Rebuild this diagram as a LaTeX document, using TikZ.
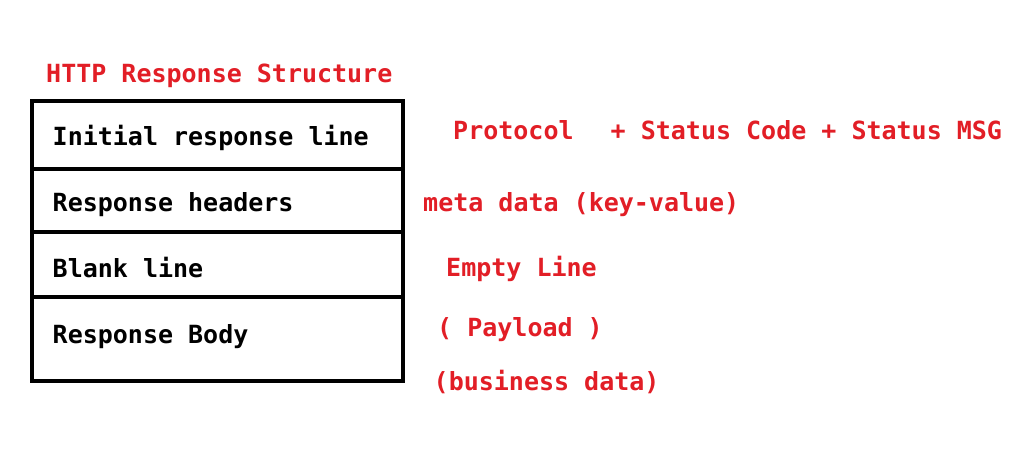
\documentclass[tikz,border=0pt]{standalone}
\usepackage{fontspec}
\setmonofont{DejaVu Sans Mono}
\definecolor{labelred}{RGB}{226,30,38}
\begin{document}
\begin{tikzpicture}[x=1pt,y=-1pt,
  rowbox/.style={draw=black, line width=4pt, minimum width=371pt, inner sep=0pt, outer sep=0pt, anchor=north west},
  celltext/.style={font=\ttfamily\bfseries\fontsize{25}{29}\selectfont, text=black, anchor=base west, inner sep=0pt},
  note/.style={font=\ttfamily\bfseries\fontsize{25}{29}\selectfont, text=labelred, anchor=base west, inner sep=0pt}]
\useasboundingbox (0,0) rectangle (1031,448);
\fill[white] (0,0) rectangle (1031,448);
% title
\node[note] (title) at (46,82) {HTTP Response Structure};
% rows
\node[rowbox, minimum height=67.5pt] (row1) at (31.5,101) {};
\node[rowbox, minimum height=63.5pt] (row2) at (row1.south west) {};
\node[rowbox, minimum height=65pt] (row3) at (row2.south west) {};
\node[rowbox, minimum height=83.5pt] (row4) at (row3.south west) {};
% row texts
\node[celltext] (t1) at (52.5,145) {Initial response line};
\node[celltext] (t2) at (52.5,211.5) {Response headers};
\node[celltext] (t3) at (52.5,277) {Blank line};
\node[celltext] (t4) at (52.5,343) {Response Body};
% notes
\node[note] (n1) at (453,139) {Protocol\ \ \kern7pt+ Status Code + Status MSG};
\node[note] (n2) at (423,211) {meta data (key-value)};
\node[note] (n3) at (446,276) {Empty Line};
\node[note] (n4) at (437,336) {( Payload )};
\node[note] (n5) at (433.5,390) {(business data)};
\end{tikzpicture}
\end{document}
